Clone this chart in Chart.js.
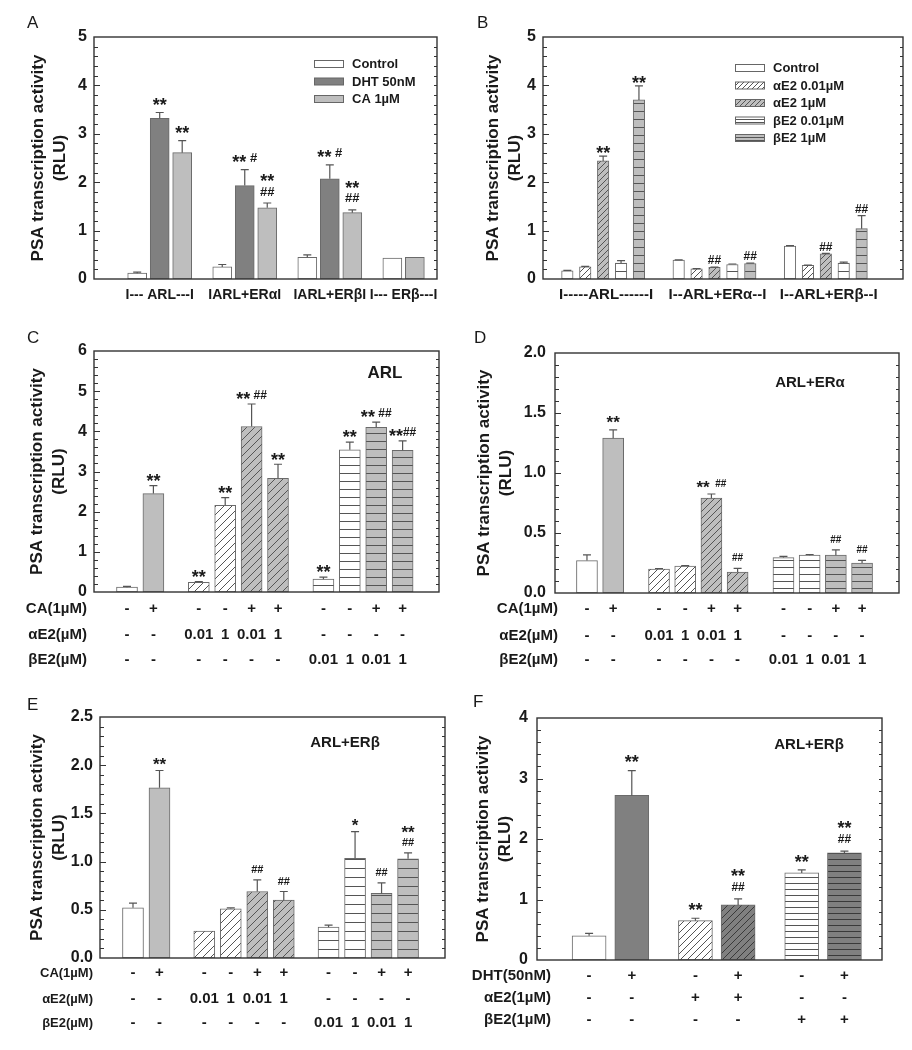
<!DOCTYPE html>
<html><head><meta charset="utf-8">
<script src="https://cdn.jsdelivr.net/npm/chart.js@4.4.1/dist/chart.umd.min.js"></script>
<style>
html,body{margin:0;padding:0;background:#fff;}
body{width:912px;height:1050px;position:relative;overflow:hidden;}
canvas{position:absolute;}
</style></head><body>
<canvas id="cA"></canvas><canvas id="cB"></canvas>
<canvas id="cC"></canvas><canvas id="cD"></canvas>
<canvas id="cE"></canvas><canvas id="cF"></canvas>
<script>
// ================= DATA =================
const Y_TITLE = ['PSA transcription activity', '(RLU)'];

// Panel A
const A_yTicks = [0, 1, 2, 3, 4, 5];
const A_groupLabels = ['I--- ARL---I', 'IARL+ERαI', 'IARL+ERβI', 'I--- ERβ---I'];
const A_legendLabels = ['Control', 'DHT 50nM', 'CA 1µM'];
const A_legendFills = ['white', 'dark', 'grey'];
const A_values = [0.12, 3.32, 2.61, 0.25, 1.93, 1.47, 0.45, 2.07, 1.37, 0.43, 0.45];
const A_errors = [0.02, 0.12, 0.25, 0.05, 0.33, 0.10, 0.05, 0.29, 0.06, 0.00, 0.00];
const A_fills  = ['white','dark','grey','white','dark','grey','white','dark','grey','white','grey'];
const A_groups = [0,0,0,1,1,1,2,2,2,3,3];
const A_notes  = ['', '**', '**', '', '** #', '**|##', '', '** #', '**|##', '', ''];

// Panel B
const B_yTicks = [0, 1, 2, 3, 4, 5];
const B_groupLabels = ['I-----ARL------I', 'I--ARL+ERα--I', 'I--ARL+ERβ--I'];
const B_legendLabels = ['Control', 'αE2 0.01µM', 'αE2 1µM', 'βE2 0.01µM', 'βE2 1µM'];
const B_legendFills = ['white', 'whiteDiag', 'greyDiag', 'whiteHoriz', 'greyHoriz'];
const B_values = [0.17, 0.25, 2.44, 0.33, 3.70,  0.39, 0.21, 0.24, 0.30, 0.32,  0.68, 0.28, 0.52, 0.33, 1.04];
const B_errors = [0.01, 0.01, 0.10, 0.05, 0.29,  0.005, 0.005, 0.005, 0.01, 0.01,  0.01, 0.005, 0.01, 0.02, 0.27];
const B_fills  = ['white','whiteDiag','greyDiag','whiteHoriz','greyHoriz',
                  'white','whiteDiag','greyDiag','whiteHoriz','greyHoriz',
                  'white','whiteDiag','greyDiag','whiteHoriz','greyHoriz'];
const B_groups = [0,0,0,0,0, 1,1,1,1,1, 2,2,2,2,2];
const B_notes  = ['', '', '**', '', '**',  '', '', '##', '', '##',  '', '', '##', '', '##'];

// Panels C, D, E share the treatment layout
const CDE_rowLabels = ['CA(1µM)', 'αE2(µM)', 'βE2(µM)'];
const CDE_CA  = ['-','+','-','-','+','+','-','-','+','+'];
const CDE_aE2 = ['-','-','0.01','1','0.01','1','-','-','-','-'];
const CDE_bE2 = ['-','-','-','-','-','-','0.01','1','0.01','1'];
const CDE_fills  = ['white','grey','whiteDiag','whiteDiag','greyDiag','greyDiag','whiteHoriz','whiteHoriz','greyHoriz','greyHoriz'];
const CDE_groups = [0,0,1,1,1,1,2,2,2,2];

// Panel C (ARL)
const C_yTicks = [0, 1, 2, 3, 4, 5, 6];
const C_label  = 'ARL';
const C_values = [0.12, 2.45, 0.24, 2.16, 4.12, 2.83, 0.32, 3.54, 4.10, 3.53];
const C_errors = [0.02, 0.20, 0.02, 0.19, 0.56, 0.35, 0.05, 0.19, 0.13, 0.23];
const C_notes  = ['', '**', '**', '**', '** ##', '**', '**', '**', '** ##', '**##'];

// Panel D (ARL+ERα)
const D_yTicks = [0, 0.5, 1.0, 1.5, 2.0];
const D_label  = 'ARL+ERα';
const D_values = [0.27, 1.29, 0.20, 0.225, 0.79, 0.175, 0.295, 0.315, 0.315, 0.25];
const D_errors = [0.047, 0.07, 0.004, 0.003, 0.035, 0.03, 0.011, 0.006, 0.044, 0.022];
const D_notes  = ['', '**', '', '', '**  ##', '##', '', '', '##', '##'];

// Panel E (ARL+ERβ)
const E_yTicks = [0, 0.5, 1.0, 1.5, 2.0, 2.5];
const E_label  = 'ARL+ERβ';
const E_values = [0.52, 1.765, 0.28, 0.51, 0.69, 0.60, 0.32, 1.035, 0.67, 1.03];
const E_errors = [0.05, 0.18, 0.00, 0.01, 0.12, 0.09, 0.02, 0.275, 0.11, 0.06];
const E_notes  = ['', '**', '', '', '##', '##', '', '*', '##', '**|##'];

// Panel F (ARL+ERβ, DHT)
const F_yTicks = [0, 1, 2, 3, 4];
const F_label  = 'ARL+ERβ';
const F_rowLabels = ['DHT(50nM)', 'αE2(1µM)', 'βE2(1µM)'];
const F_DHT = ['-','+','-','+','-','+'];
const F_aE2 = ['-','-','+','+','-','-'];
const F_bE2 = ['-','-','-','-','+','+'];
const F_values = [0.40, 2.72, 0.65, 0.91, 1.44, 1.77];
const F_errors = [0.04, 0.41, 0.04, 0.10, 0.05, 0.03];
const F_fills  = ['white','dark','whiteDiag','darkDiag','whiteHoriz','darkHoriz'];
const F_groups = [0,0,1,1,2,2];
const F_notes  = ['', '**', '**', '**|##', '**', '**|##'];

// ================= STYLE / RENDER =================
const FONT = '"Liberation Sans", Arial, Helvetica, sans-serif';
const INK = '#1a1a1a';
const BASE = { white: '#ffffff', grey: '#bebebe', dark: '#808080' };

function makeFill(ctx, type, diagS, horS) {
  const m = type.match(/^(white|grey|dark)(Diag|Horiz)?$/);
  const bg = BASE[m[1]];
  if (!m[2]) return bg;
  const s = Math.max(3, Math.round(m[2] === 'Diag' ? diagS : horS));
  const c = document.createElement('canvas');
  c.width = s; c.height = s;
  const g = c.getContext('2d');
  g.fillStyle = bg; g.fillRect(0, 0, s, s);
  g.strokeStyle = m[1] === 'dark' ? '#3a3a3a' : '#555';
  g.lineWidth = 1;
  g.beginPath();
  if (m[2] === 'Diag') {
    g.moveTo(-1, s + 1); g.lineTo(s + 1, -1);
    g.moveTo(-s - 1, 1); g.lineTo(1, -s - 1);
    g.moveTo(s - 1, 2 * s + 1); g.lineTo(2 * s + 1, s - 1);
  } else {
    g.moveTo(0, s - 0.5); g.lineTo(s, s - 0.5);
  }
  g.stroke();
  return ctx.createPattern(c, 'repeat');
}

function drawNote(ctx, text, x, yBottom, o) {
  const lines = text.split('|').reverse();
  lines.forEach((line, k) => {
    const cy = yBottom - o.noteOffset - k * o.notePitch;
    const toks = line.match(/\*+|#+|\s+/g) || [];
    const fontOf = t => t[0] === '*' ? `bold ${o.starSize}px ${FONT}` : `bold ${o.hashSize}px ${FONT}`;
    const ws = toks.map(t => { ctx.font = fontOf(t); return ctx.measureText(t).width; });
    let cx = x - ws.reduce((a, b) => a + b, 0) / 2;
    toks.forEach((t, i) => {
      ctx.font = fontOf(t);
      ctx.textAlign = 'left'; ctx.textBaseline = 'alphabetic';
      if (t[0] === '*') ctx.fillText(t, cx, cy + 0.57 * o.starSize);
      else if (t[0] === '#') ctx.fillText(t, cx, cy + 0.36 * o.hashSize);
      cx += ws[i];
    });
  });
}

const decor = {
  id: 'decor',
  afterDraw(chart, args, o) {
    const ctx = chart.ctx, ca = chart.chartArea;
    const yS = chart.scales.y;
    const ox = o.canvas[0], oy = o.canvas[1];
    const bars = chart.getDatasetMeta(0).data;
    ctx.save();
    // frame
    ctx.strokeStyle = '#333'; ctx.lineWidth = 1.4;
    ctx.strokeRect(ca.left, ca.top, ca.right - ca.left, ca.bottom - ca.top);
    // inward ticks
    ctx.lineWidth = 1.1; ctx.strokeStyle = '#333';
    ctx.beginPath();
    const n = Math.round(o.yMax / o.minor);
    for (let k = 1; k < n; k++) {
      const v = k * o.minor;
      const y = Math.round(yS.getPixelForValue(v)) + 0.5;
      const r = v / o.major;
      const major = Math.abs(r - Math.round(r)) < 1e-6;
      ctx.moveTo(ca.left, y); ctx.lineTo(ca.left + (major ? 6 : 4), y);
      ctx.moveTo(ca.right, y); ctx.lineTo(ca.right - 3, y);
    }
    ctx.stroke();
    // error bars
    ctx.strokeStyle = '#555'; ctx.lineWidth = 1.2;
    ctx.beginPath();
    const tops = [];
    o.values.forEach((v, i) => {
      const x = bars[i].x;
      const y0 = yS.getPixelForValue(v);
      const y1 = yS.getPixelForValue(v + o.errors[i]);
      tops.push(Math.min(y0, y1));
      if (o.errors[i] > 0) {
        ctx.moveTo(x, y0); ctx.lineTo(x, y1);
        ctx.moveTo(x - 4, y1); ctx.lineTo(x + 4, y1);
      }
    });
    ctx.stroke();
    // significance notes
    ctx.fillStyle = INK;
    o.notes.forEach((t, i) => { if (t) drawNote(ctx, t, bars[i].x, tops[i], o); });
    // legend
    if (o.legendLabels) {
      o.legendLabels.forEach((lab, i) => {
        const y = o.legendPos.y0 + i * o.legendPos.dy - oy;
        const bx = o.legendPos.boxX - ox;
        ctx.fillStyle = o.legendFillStyles[i];
        ctx.fillRect(bx, y - 3.5, 30, 7);
        ctx.strokeStyle = '#666'; ctx.lineWidth = 1;
        ctx.strokeRect(bx + 0.5, y - 3.5, 29, 7);
        ctx.fillStyle = INK;
        ctx.font = `bold 13px ${FONT}`;
        ctx.textAlign = 'left'; ctx.textBaseline = 'middle';
        ctx.fillText(lab, o.legendPos.textX - ox, y + 0.5);
      });
    }
    // group labels under the axis
    if (o.groupLabels) {
      ctx.fillStyle = INK;
      ctx.font = `bold ${o.groupFont}px ${FONT}`;
      ctx.textAlign = 'center'; ctx.textBaseline = 'middle';
      o.groupLabels.forEach((lab, g) => {
        const xs = bars.filter((b, i) => o.groups[i] === g).map(b => b.x);
        const cx = xs.reduce((a, b) => a + b, 0) / xs.length;
        ctx.fillText(lab, cx + o.groupDx, ca.bottom + o.groupDy);
      });
    }
    // treatment rows
    if (o.rows) {
      o.rows.forEach((row, r) => {
        const y = ca.bottom + o.rowDy[r];
        ctx.fillStyle = INK;
        ctx.font = `bold ${o.rowLabelFont}px ${FONT}`;
        ctx.textAlign = 'right'; ctx.textBaseline = 'middle';
        ctx.fillText(o.rowLabels[r], ca.left + o.rowLabelDx, y);
        ctx.font = `bold 15px ${FONT}`;
        ctx.textAlign = 'center';
        row.forEach((t, i) => ctx.fillText(t, bars[i].x, y));
      });
    }
    // inner label
    if (o.inner) {
      ctx.fillStyle = INK;
      ctx.font = `bold ${o.inner.size}px ${FONT}`;
      ctx.textAlign = 'center'; ctx.textBaseline = 'middle';
      ctx.fillText(o.inner.text, o.inner.x - ox, o.inner.y - oy);
    }
    // panel letter
    ctx.fillStyle = INK;
    ctx.font = `17px ${FONT}`;
    ctx.textAlign = 'left'; ctx.textBaseline = 'alphabetic';
    ctx.fillText(o.letter[0], o.letter[1] - ox, o.letter[2] - oy);
    ctx.restore();
  }
};

function build(id, o) {
  const [cx, cy, cw, ch] = o.canvas;
  const [L, T, R, B] = o.plot;
  const el = document.getElementById(id);
  el.width = cw; el.height = ch;
  el.style.left = cx + 'px'; el.style.top = cy + 'px';
  const ctx = el.getContext('2d');
  const xs = o.values.map((v, i) => i + o.groups[i] * o.gapExtra);
  const xMin = -o.firstOffset;
  const xMax = xMin + (R - L) / o.pitch;
  const fills = o.fills.map(f => makeFill(ctx, f, o.diagS, o.horS));
  if (o.legendFills) o.legendFillStyles = o.legendFills.map(f => makeFill(ctx, f, 5, 3));
  const yMax = o.yTicks[o.yTicks.length - 1];
  o.yMax = yMax;
  new Chart(el, {
    type: 'bar',
    data: { datasets: [{
      data: o.values.map((v, i) => ({ x: xs[i], y: v })),
      backgroundColor: fills, borderColor: '#6a6a6a', borderWidth: 1,
      borderSkipped: false, barThickness: o.barW
    }]},
    options: {
      responsive: false, animation: false, devicePixelRatio: 1,
      events: [],
      layout: { padding: { left: 0, top: T - cy, right: cx + cw - R, bottom: 0 } },
      plugins: { legend: { display: false }, tooltip: { enabled: false }, decor: o },
      scales: {
        x: { type: 'linear', min: xMin, max: xMax, offset: false,
             grid: { display: false, drawTicks: false, offset: false }, border: { display: false },
             ticks: { display: false },
             afterFit(s) { s.height = cy + ch - B; } },
        y: { type: 'linear', min: 0, max: yMax,
             afterBuildTicks(s) { s.ticks = o.yTicks.map(v => ({ value: v })); },
             grid: { display: false, drawTicks: false }, border: { display: false },
             ticks: { color: INK, padding: o.tickPad,
                      font: { family: FONT, size: 16, weight: 'bold' },
                      callback: v => o.tickDec ? Number(v).toFixed(o.tickDec) : String(v) },
             title: { display: true, text: Y_TITLE, color: INK,
                      font: { family: FONT, size: 17, weight: 'bold', lineHeight: 1.3 },
                      padding: { top: o.titlePad, bottom: 0 } },
             afterFit(s) { s.width = L - cx; } }
      }
    },
    plugins: [decor]
  });
}

const common = { starSize: 18, notePitch: 14.5 };

build('cA', Object.assign({}, common, {
  canvas: [0, 0, 456, 310], plot: [94, 37, 437, 279],
  values: A_values, errors: A_errors, fills: A_fills, groups: A_groups, notes: A_notes,
  yTicks: A_yTicks, major: 1, minor: 0.2, tickPad: 7, titlePad: 27,
  pitch: 22.5, firstOffset: 1.92, gapExtra: 0.78, barW: 19, diagS: 7, horS: 8,
  noteOffset: 12, hashSize: 13,
  legendLabels: A_legendLabels, legendFills: A_legendFills,
  legendPos: { boxX: 314, textX: 352, y0: 64, dy: 17.5 },
  groupLabels: A_groupLabels, groupFont: 14, groupDx: 0, groupDy: 16,
  letter: ['A', 27, 28]
}));

build('cB', Object.assign({}, common, {
  canvas: [456, 0, 456, 310], plot: [543, 37, 903, 279],
  values: B_values, errors: B_errors, fills: B_fills, groups: B_groups, notes: B_notes,
  yTicks: B_yTicks, major: 1, minor: 0.2, tickPad: 7, titlePad: 26,
  pitch: 17.9, firstOffset: 1.36, gapExtra: 1.22, barW: 11.5, diagS: 6, horS: 8,
  noteOffset: 7, hashSize: 12,
  legendLabels: B_legendLabels, legendFills: B_legendFills,
  legendPos: { boxX: 735, textX: 773, y0: 68, dy: 17.5 },
  groupLabels: B_groupLabels, groupFont: 15, groupDx: 3, groupDy: 16,
  letter: ['B', 477, 28]
}));

build('cC', Object.assign({}, common, {
  canvas: [0, 330, 456, 345], plot: [94, 351, 439, 592],
  values: C_values, errors: C_errors, fills: CDE_fills, groups: CDE_groups, notes: C_notes,
  yTicks: C_yTicks, major: 1, minor: 0.2, tickPad: 7, titlePad: 26,
  pitch: 26.4, firstOffset: 1.25, gapExtra: 0.72, barW: 21, diagS: 8, horS: 8,
  noteOffset: 9, hashSize: 12,
  rows: [CDE_CA, CDE_aE2, CDE_bE2], rowLabels: CDE_rowLabels,
  rowDy: [17, 43, 68], rowLabelDx: -7, rowLabelFont: 15,
  inner: { text: C_label, x: 385, y: 373, size: 17 },
  letter: ['C', 27, 343]
}));

build('cD', Object.assign({}, common, {
  canvas: [456, 330, 456, 345], plot: [555, 353, 899, 593],
  values: D_values, errors: D_errors, fills: CDE_fills, groups: CDE_groups, notes: D_notes,
  yTicks: D_yTicks, major: 0.5, minor: 0.1, tickPad: 9, titlePad: 17, tickDec: 1,
  pitch: 26.2, firstOffset: 1.22, gapExtra: 0.75, barW: 21, diagS: 7, horS: 7,
  noteOffset: 11, hashSize: 10, starSize: 17,
  rows: [CDE_CA, CDE_aE2, CDE_bE2], rowLabels: CDE_rowLabels,
  rowDy: [16, 43, 67], rowLabelDx: 3, rowLabelFont: 15,
  inner: { text: D_label, x: 810, y: 383, size: 15 },
  letter: ['D', 474, 343]
}));

build('cE', Object.assign({}, common, {
  canvas: [0, 680, 456, 370], plot: [100, 717, 445, 958],
  values: E_values, errors: E_errors, fills: CDE_fills, groups: CDE_groups, notes: E_notes,
  yTicks: E_yTicks, major: 0.5, minor: 0.1, tickPad: 7, titlePad: 26, tickDec: 1,
  pitch: 26.5, firstOffset: 1.245, gapExtra: 0.69, barW: 21, diagS: 8, horS: 9,
  noteOffset: 10.5, hashSize: 11, starSize: 17,
  rows: [CDE_CA, CDE_aE2, CDE_bE2], rowLabels: CDE_rowLabels,
  rowDy: [15, 41, 65], rowLabelDx: -7, rowLabelFont: 13,
  inner: { text: E_label, x: 345, y: 743, size: 15 },
  letter: ['E', 27, 710]
}));

build('cF', Object.assign({}, common, {
  canvas: [456, 680, 456, 370], plot: [537, 718, 882, 960],
  values: F_values, errors: F_errors, fills: F_fills, groups: F_groups, notes: F_notes,
  yTicks: F_yTicks, major: 1, minor: 0.2, tickPad: 9, titlePad: 16,
  pitch: 42.7, firstOffset: 1.22, gapExtra: 0.49, barW: 34, diagS: 7, horS: 6,
  noteOffset: 12.5, hashSize: 12, starSize: 18, notePitch: 15,
  rows: [F_DHT, F_aE2, F_bE2], rowLabels: F_rowLabels,
  rowDy: [16, 38, 60], rowLabelDx: 14, rowLabelFont: 15,
  inner: { text: F_label, x: 809, y: 745, size: 15 },
  letter: ['F', 473, 707]
}));
</script>
</body></html>
